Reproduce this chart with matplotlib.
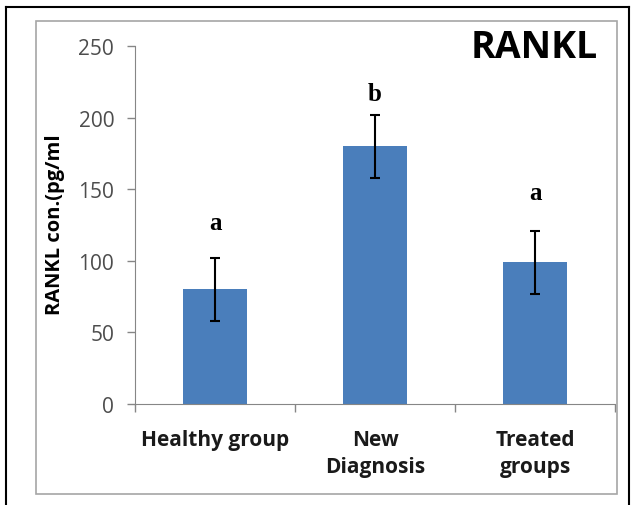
import matplotlib.pyplot as plt
from matplotlib.lines import Line2D
from matplotlib.patches import Rectangle

# Data
groups = ['Healthy group', 'New\nDiagnosis', 'Treated\ngroups']
means = [80, 180, 99]
errors = [22, 22, 22]
letters = ['a', 'b', 'a']
letter_y = [127, 217, 148]

bar_color = '#4a7ebb'
axis_gray = '#868686'

fig = plt.figure(figsize=(6.31, 5.06), dpi=100)

# Outer black frame and inner gray chart-area frame
fig.add_artist(Line2D([6 / 631, 6 / 631], [0, 1 - 8 / 506], color='black', lw=1.5))
fig.add_artist(Line2D([6 / 631, 629 / 631], [1 - 8 / 506, 1 - 8 / 506], color='black', lw=1.5))
fig.add_artist(Line2D([629 / 631, 629 / 631], [0, 1 - 8 / 506], color='black', lw=1.5))
fig.add_artist(Rectangle((36 / 631, 1 - 495 / 506), (617 - 36) / 631, (495 - 22) / 506,
                         fill=False, edgecolor='#a6a6a6', lw=1.2, transform=fig.transFigure))

ax = fig.add_axes([135 / 631, 1 - 405 / 506, (615 - 135) / 631, (405 - 47) / 506])

x = range(len(groups))
ax.bar(x, means, width=0.4, color=bar_color, zorder=2)
ax.errorbar(x, means, yerr=errors, fmt='none', ecolor='black', elinewidth=1.5,
            capsize=3.5, capthick=1.5, zorder=3)

for xi, lab, ly in zip(x, letters, letter_y):
    ax.text(xi, ly, lab, ha='center', va='center', fontsize=18, fontweight='bold',
            family='Liberation Serif')

ax.set_xlim(-0.5, 2.5)
ax.set_ylim(0, 250)
ax.set_yticks([0, 50, 100, 150, 200, 250])
ax.set_xticks(list(x))
ax.set_xticklabels(groups, fontsize=15, fontweight='bold', family='Open Sans',
                   color='#1a1a1a', linespacing=1.35)
ax.set_xticks([-0.5, 0.5, 1.5, 2.5], minor=True)
ax.tick_params(axis='x', which='major', length=0, pad=18)
ax.tick_params(axis='x', which='minor', length=6, color=axis_gray, width=1)
ax.tick_params(axis='y', length=6, color=axis_gray, width=1, labelsize=15, labelcolor='#4d4d4d', pad=9)
for lab in ax.get_yticklabels():
    lab.set_family('Open Sans')

ax.spines['top'].set_visible(False)
ax.spines['right'].set_visible(False)
ax.spines['left'].set_color(axis_gray)
ax.spines['bottom'].set_color(axis_gray)

ax.set_ylabel('RANKL con.(pg/ml', fontsize=14.5, fontweight='bold', family='Open Sans')
ax.yaxis.set_label_coords(-0.145, 0.503)

fig.text(534 / 631, 1 - 48 / 506, 'RANKL', ha='center', va='center', fontsize=27,
         fontweight='bold', family='Open Sans')

fig.savefig('out.png', dpi=100)
